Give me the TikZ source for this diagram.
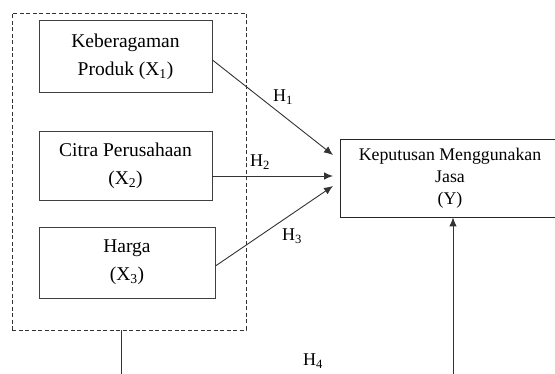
\documentclass[tikz,border=0pt]{standalone}
\usepackage{fontspec}
\setmainfont{Liberation Serif}
\usetikzlibrary{arrows.meta,calc}

\tikzset{
  var/.style={draw=black!75, line width=0.9pt, align=center, inner sep=0pt,
              font=\fontsize{19.5}{28}\selectfont},
  dep/.style={draw=black!85, line width=0.9pt, align=center, inner sep=0pt,
              font=\fontsize{17.8}{22}\selectfont},
  group/.style={draw=black!80, line width=0.9pt, dash pattern=on 4pt off 2.5pt},
  link/.style={draw=black!80, line width=0.9pt},
  path/.style={link, -{Latex[length=9pt,width=7.5pt]}},
  hyp/.style={font=\fontsize{18}{20}\selectfont, inner sep=0pt}
}

\begin{document}
\begin{tikzpicture}[x=1pt, y=-1pt]
  \useasboundingbox (0,0) rectangle (555,374);
  \clip (0,0) rectangle (555,374);

  % exogenous variables inside the dashed group
  \node[group, minimum width=234pt, minimum height=317pt] (grp) at (129,171.5) {};
  \node[var, minimum width=173pt, minimum height=72pt] (x1) at (125.5,56.5)
    {Keberagaman\\Produk (X\textsubscript{1})};
  \node[var, minimum width=173pt, minimum height=69pt] (x2) at (125.5,165.5)
    {Citra Perusahaan\\(X\textsubscript{2})};
  \node[var, minimum width=176pt, minimum height=71pt] (x3) at (127,262.5)
    {Harga\\(X\textsubscript{3})};

  % endogenous variable
  \node[dep, minimum width=220pt, minimum height=78pt] (y) at (450,178)
    {Keputusan Menggunakan\\Jasa\\(Y)};

  % arrow targets just left of Y
  \coordinate (t1) at (333,155);
  \coordinate (t2) at (333,176);
  \coordinate (t3) at (333,186);
  \coordinate (b1) at (121,376);
  \coordinate (b2) at (453,376);

  \draw[path] ($(x1.east)+(0,3.5)$) -- (t1);
  \draw[path] (x2.east |- t2) -- (t2);
  \draw[path] ($(x3.east)+(0,3.5)$) -- (t3);

  % simultaneous path H4
  \draw[link] (grp.south -| b1) -- (b1);
  \draw[path] (b2) -- (y.south -| b2);

  \node[hyp] (h1) at (283,97) {H\textsubscript{1}};
  \node[hyp] (h2) at (260,162) {H\textsubscript{2}};
  \node[hyp] (h3) at (292,236) {H\textsubscript{3}};
  \node[hyp] (h4) at (313,361) {H\textsubscript{4}};
\end{tikzpicture}
\end{document}
